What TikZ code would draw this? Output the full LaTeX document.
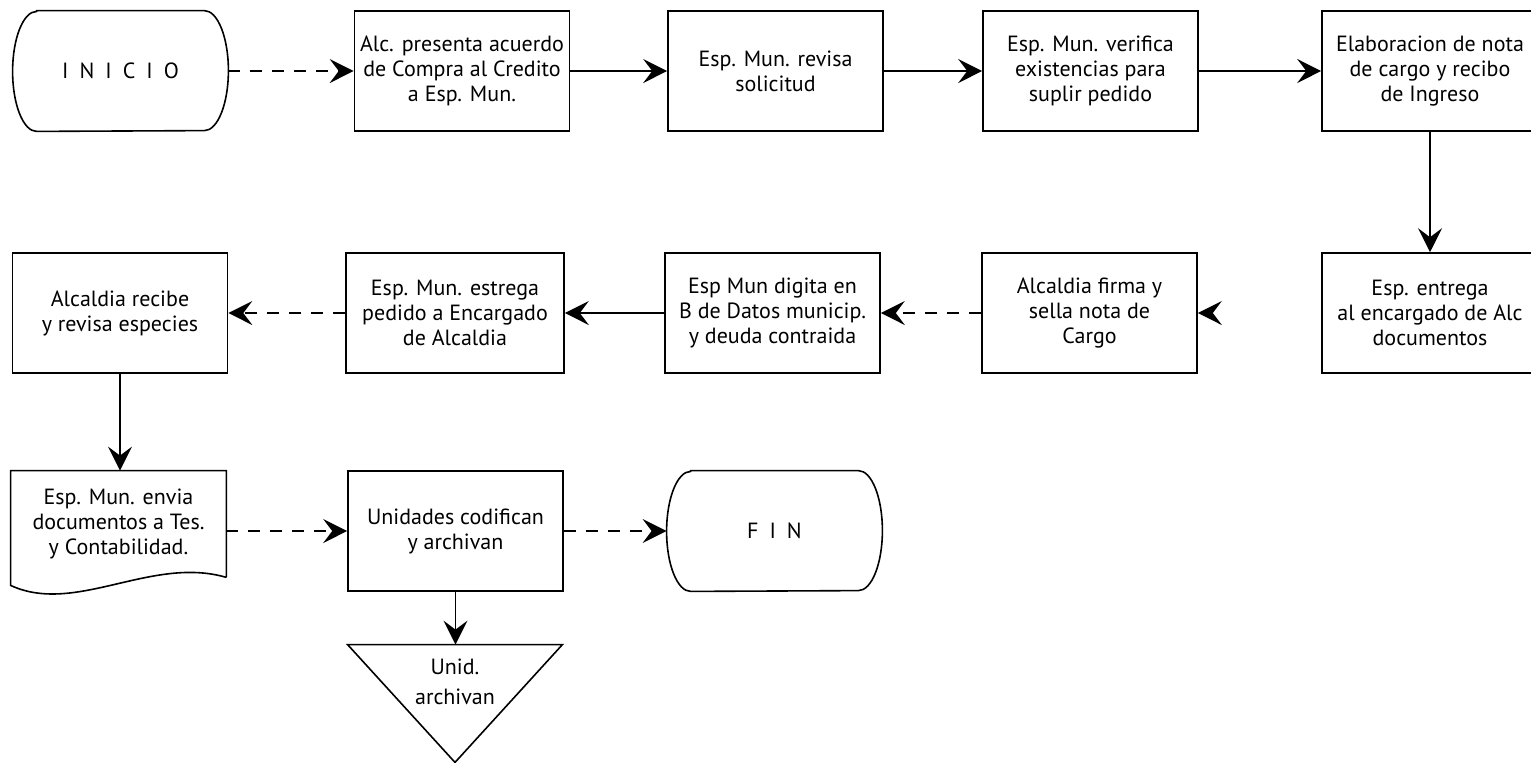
\documentclass[tikz,border=0pt]{standalone}
\usepackage{fontspec}
\setmainfont{PT Sans}
\usetikzlibrary{arrows.meta,calc}

% outline of a terminator: straight top and bottom, elliptic ends
\newcommand\termoutline[1]{%
  \draw[outline] ([xshift=12pt]#1.north west) -- ([xshift=-12pt]#1.north east)
    arc[start angle=90,end angle=-90,x radius=12pt,y radius=30pt]
    -- ([xshift=12pt]#1.south west)
    arc[start angle=270,end angle=90,x radius=12pt,y radius=30pt] -- cycle;}

\tikzset{
  txt/.style={font=\fontsize{11}{12.5}\selectfont, align=center},
  stepbox/.style={txt, rectangle, draw, line width=0.8pt, inner sep=0pt,
    minimum width=107.5pt, minimum height=60pt},
  terminal/.style={txt, rectangle, inner sep=0pt,
    minimum width=107.5pt, minimum height=60pt},
  outline/.style={line width=0.8pt},
  flow/.style={-{Stealth[length=12pt,width=12pt,inset=4.5pt]}, line width=0.8pt},
  dflow/.style={flow, dash pattern=on 6pt off 5pt},
  ghostflow/.style={flow, dash pattern=on 0pt off 400pt, line cap=butt},
}

\begin{document}
\begin{tikzpicture}[x=0.5pt, y=-0.5pt]
\useasboundingbox (0,0) rectangle (1531,762);

% ---- first row ----
\node[terminal] (inicio) at (120.5,71) {I\hspace{0.5em}N\hspace{0.5em}I\hspace{0.5em}C\hspace{0.5em}I\hspace{0.5em}O};
\termoutline{inicio}
\node[stepbox] (alc) at (462,71) {Alc. presenta acuerdo\\de Compra al Credito\\a Esp. Mun.};
\node[stepbox] (revisa) at (775.5,71) {Esp. Mun. revisa\\solicitud};
\node[stepbox] (verifica) at (1090.5,71) {Esp. Mun. verifica\\existencias para\\suplir pedido};
\node[stepbox, minimum width=108pt] (elab) at (1430,71) {Elaboracion de nota\\de cargo y recibo\\de Ingreso};

% ---- second row ----
\node[stepbox, minimum width=108pt] (entrega) at (1430,313) {Esp. entrega\\al encargado de Alc\\documentos};
\node[stepbox] (firma) at (1089.5,313) {Alcaldia firma y\\sella nota de\\Cargo};
\node[stepbox] (digita) at (772.5,313) {Esp Mun digita en\\B de Datos municip.\\y deuda contraida};
\node[stepbox, minimum width=109pt] (estrega) at (455,313) {Esp. Mun. estrega\\pedido a Encargado\\de Alcaldia};
\node[stepbox] (recibe) at (120,313) {Alcaldia recibe\\y revisa especies};

% ---- third row ----
\node[terminal, minimum height=53pt] (envia) at (118.5,524) {Esp. Mun. envia\\documentos a Tes.\\y Contabilidad.};
\draw[outline] (envia.south east) -- (envia.north east) -- (envia.north west)
  -- ($(envia.south west)+(0,8)$)
  .. controls +(65,30) and +(-75,-22) .. (envia.south east);
\node[stepbox] (unidades) at (455.5,531) {Unidades codifican\\y archivan};
\node[terminal] (fin) at (774.5,531) {F\hspace{0.5em}I\hspace{0.5em}N};
\termoutline{fin}

% storage triangle
\node[terminal, minimum width=107pt, minimum height=58.5pt] (tri) at (455,703.5) {};
\draw[outline] (tri.north west) -- (tri.north east) -- (tri.south) -- cycle;
\node[txt, font=\fontsize{11}{15}\selectfont] (trilabel) at (455,682) {Unid.\\archivan};

% ---- connectors ----
\draw[dflow] (inicio) -- (alc);
\draw[flow] (alc) -- (revisa);
\draw[flow] (revisa) -- (verifica);
\draw[flow] (verifica) -- (elab);
\draw[flow] (elab) -- (entrega);
\draw[ghostflow] (entrega) -- (firma);
\draw[dflow] (firma) -- (digita);
\draw[flow] (digita) -- (estrega);
\draw[dflow] (estrega) -- (recibe);
\draw[flow] (recibe.south) -- (recibe.south |- envia.north);
\draw[dflow] (envia.east |- unidades.west) -- (unidades.west);
\draw[dflow] (unidades) -- (fin);
\draw[flow] (unidades.south) -- (unidades.south |- tri.north);
\end{tikzpicture}
\end{document}
